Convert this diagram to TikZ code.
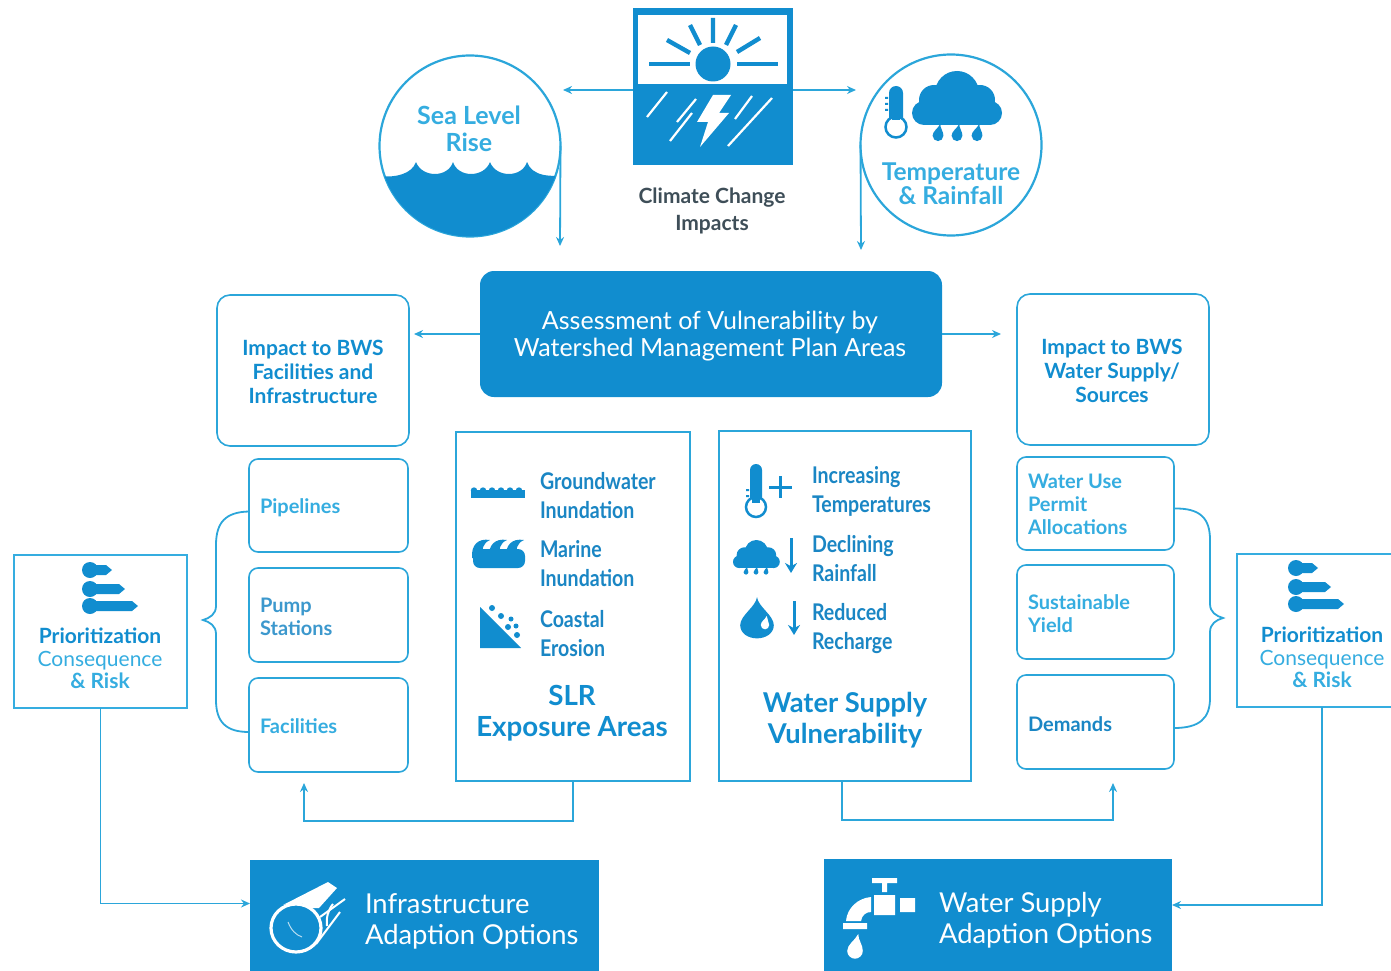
\documentclass[tikz,border=0pt]{standalone}
\usepackage{fontspec}
\setmainfont{Lato}
\newfontfamily\narrowf[FakeStretch=0.85]{Lato}
\usetikzlibrary{arrows.meta}
\definecolor{bwsblue}{HTML}{118DCF}
\definecolor{bwsline}{HTML}{2BA6DA}
\definecolor{bwsdark}{HTML}{1A86C4}
\definecolor{bwslight}{HTML}{35ADE0}
\definecolor{bwsgrey}{HTML}{3E4E58}
\tikzset{
  x=1pt,y=-1pt,
  every node/.style={outer sep=0pt,inner sep=0pt},
  roundbox/.style={draw=bwsline,line width=1.6pt,rounded corners=9pt,fill=white},
  squarebox/.style={draw=bwsline,line width=1.6pt,fill=white},
  solidbox/.style={fill=bwsblue},
  conn/.style={draw=bwsline,line width=1.8pt},
  arrowconn/.style={conn,-{Stealth[length=9pt,width=8pt]}},
  hd/.style={font=\bfseries\fontsize{21}{24}\selectfont,align=center,text=bwsblue},
  whitetxt/.style={font=\fontsize{25}{27}\selectfont,align=center,text=white},
  whiteleft/.style={font=\fontsize{27.4}{31}\selectfont,align=left,text=white,anchor=west},
  smalltxt/.style={font=\bfseries\fontsize{20}{23}\selectfont,align=left,anchor=west},
  listtxt/.style={font=\narrowf\bfseries\fontsize{23}{29}\selectfont,align=left,anchor=west,text=bwsdark},
  ray/.style={draw=bwsblue,line width=4.4pt},
  rain/.style={draw=white,line width=2.2pt},
  iconline/.style={draw=bwsblue,line width=3pt},
}
\newcommand{\cloudicon}[3]{\begin{scope}[shift={(#1,#2)},scale=#3]
  \fill[bwsblue] (45,22) circle (22) (22,29) circle (15) (68,29) circle (15) (12,42) circle (12) (78,42) circle (12);
  \fill[bwsblue] (12,30) rectangle (78,54);
\end{scope}}
\newcommand{\dropicon}[4]{\begin{scope}[shift={(#1,#2)},xscale=#3,yscale=#3]
  \fill[#4] (0.25,-1) .. controls (0.25,-.5) and (.6,-.2) .. (.6,.3) .. controls (.6,.65) and (.3,.9) .. (0,.9) .. controls (-.3,.9) and (-.6,.65) .. (-.6,.3) .. controls (-.6,-.2) and (0,-.5) .. (0.25,-1) -- cycle;
\end{scope}}
\newcommand{\ranked}[2]{\begin{scope}[shift={(#1,#2)}]
  \foreach \yy/\ww in {7/30,26/43,43/56}{
    \fill[bwsblue] (8,\yy) circle (8);
    \fill[bwsblue] (8,\yy-5) -- (\ww-6,\yy-5) -- (\ww,\yy) -- (\ww-6,\yy+5) -- (8,\yy+5) -- cycle;
  }
\end{scope}}
\begin{document}
\begin{tikzpicture}
\useasboundingbox (0,0) rectangle (1391,971);
% climate square
\node[solidbox,minimum width=160pt,minimum height=157pt] (sq) at (713,86.5) {};
\fill[white] (638,15) rectangle (787,84);
\fill[bwsblue] (713,64) circle (17.5);
\draw[ray] (649,64) -- (690,64) (737,64) -- (778,64);
\draw[ray] (667,40) -- (690,53) (690,25) -- (700,45) (713,18) -- (713,43) (736,25) -- (726,45) (760,38) -- (737,52);
\draw[rain] (647,117) -- (667,92) (670,141) -- (692,113) (677,122) -- (696,99) (728,146) -- (772,98) (735,119) -- (752,96);
\fill[white] (713,95) -- (731,95) -- (719,113) -- (729,113) -- (700,147) -- (708,122) -- (697,122) -- cycle;
\node[font=\bfseries\fontsize{21}{27}\selectfont,align=center,text=bwsgrey] (cc) at (712,211) {Climate Change\\Impacts};
% sea level circle
\node[circle,draw=bwsline,line width=2.2pt,minimum size=181pt,fill=white] (slr) at (470,146) {};
\begin{scope}
\clip (470,146) circle (90.5);
\fill[bwsblue] (370,176) -- (380,176) .. controls (395,178) and (412,174) .. (416,162) .. controls (422,178) and (448,178) .. (453,162) .. controls (458,178) and (484,178) .. (490,162) .. controls (496,178) and (522,178) .. (527,162) .. controls (532,176) and (550,178) .. (570,174) -- (570,250) -- (370,250) -- cycle;
\end{scope}
\node[font=\bfseries\fontsize{25}{27}\selectfont,align=center,text=bwslight] (slrt) at (469,129) {Sea Level\\Rise};
% temp circle
\node[circle,draw=bwsline,line width=2.2pt,minimum size=181pt,fill=white] (tr) at (951,145) {};
\cloudicon{912}{71}{1}
\dropicon{938}{133}{9}{bwsblue}
\dropicon{957}{133}{9}{bwsblue}
\dropicon{977}{133}{9}{bwsblue}
\fill[bwsblue] (889,93) arc (180:360:7) -- (903,118) -- (889,118) -- cycle;
\draw[bwsblue,line width=2.5pt,fill=white] (896,127) circle (10.5);
\fill[bwsblue] (892,112) rectangle (900,120);
\fill[bwsblue] (885,97) rectangle (888,99) (885,103) rectangle (888,105) (885,109) rectangle (888,111);
\node[font=\bfseries\fontsize{24.5}{24}\selectfont,align=center,text=bwslight] (trt) at (951,184) {Temperature\\\& Rainfall};
% assessment
\node[solidbox,rounded corners=14pt,minimum width=462pt,minimum height=126pt] (assess) at (711,334) {};
\node[whitetxt] (assesst) at (710,336) {Assessment of Vulnerability by\\Watershed Management Plan Areas};
% impact boxes
\node[roundbox,rounded corners=13pt,minimum width=192pt,minimum height=151pt] (impL) at (313,370.5) {};
\node[hd] (impLt) at (313,371.5) {Impact to BWS\\Facilities and\\Infrastructure};
\node[roundbox,rounded corners=13pt,minimum width=192pt,minimum height=151pt] (impR) at (1113,369.5) {};
\node[hd] (impRt) at (1112,370.5) {Impact to BWS\\Water Supply/\\Sources};
% small boxes left
\node[roundbox,minimum width=159pt,minimum height=93pt] (pipe) at (328.5,505.5) {};
\node[roundbox,minimum width=159pt,minimum height=94pt] (pump) at (328.5,615) {};
\node[roundbox,minimum width=159pt,minimum height=94pt] (fac) at (328.5,725) {};
\node[smalltxt,text=bwslight] (pipet) at (260,508) {Pipelines};
\node[smalltxt,text=bwsdark!85] (pumpt) at (260,616.5) {Pump\\Stations};
\node[smalltxt,text=bwslight] (fact) at (260,726) {Facilities};
% small boxes right
\node[roundbox,minimum width=157pt,minimum height=93pt] (use) at (1095.5,503.5) {};
\node[roundbox,minimum width=157pt,minimum height=94pt] (yield) at (1095.5,612) {};
\node[roundbox,minimum width=157pt,minimum height=94pt] (dem) at (1095.5,722) {};
\node[smalltxt,text=bwslight] (uset) at (1028,504) {Water Use\\Permit\\Allocations};
\node[smalltxt,text=bwslight] (yieldt) at (1028,614) {Sustainable\\Yield};
\node[smalltxt,text=bwsdark] (demt) at (1028,724) {Demands};
% SLR box
\node[squarebox,minimum width=234pt,minimum height=349pt] (slrbox) at (573,606.5) {};
\foreach \xx in {474,483,492,501,510,519}{\fill[bwsblue] (\xx,490.5) circle (3.2);}
\fill[bwsblue] (471,490) rectangle (525,498);
\node[listtxt] (gw) at (540,495.5) {Groundwater\\Inundation};
\fill[bwsblue,rounded corners=7pt] (473,549) rectangle (525,568);
\foreach \cc in {480,497,514}{
  \fill[bwsblue] (\cc-8,558) .. controls (\cc-9,545) and (\cc-2,538) .. (\cc+10,540) .. controls (\cc+3,543) and (\cc+1,549) .. (\cc+4,558) -- cycle;
}
\node[listtxt] (mi) at (540,564) {Marine\\Inundation};
\fill[bwsblue] (480,607) -- (480,648) -- (521,648) -- cycle;
\fill[bwsblue] (492,608) circle (3) (501,616) circle (3) (511,619) circle (2.5) (516,626) circle (2.5) (508,627) circle (3) (517,635) circle (3);
\node[listtxt] (ce) at (540,634) {Coastal\\Erosion};
\node[font=\bfseries\fontsize{27.7}{31}\selectfont,align=center,text=bwsblue] (slrl) at (572,713) {SLR\\Exposure Areas};
% water box
\node[squarebox,minimum width=252pt,minimum height=350pt] (wv) at (845,606) {};
\fill[bwsblue] (750,470) arc (180:360:6) -- (762,500) -- (750,500) -- cycle;
\draw[bwsblue,line width=2.5pt,fill=white] (756,507) circle (10);
\fill[bwsblue] (752,496) rectangle (760,503);
\fill[bwsblue] (746,489) rectangle (749,491) (746,495) rectangle (749,497);
\draw[iconline] (769,487) -- (792,487) (780.5,476) -- (780.5,498);
\node[listtxt] (it) at (812,491) {Increasing\\Temperatures};
\cloudicon{733}{540}{0.52}
\dropicon{746}{571}{4}{bwsblue}
\dropicon{756}{571}{4}{bwsblue}
\dropicon{766}{571}{4}{bwsblue}
\draw[iconline,-{Stealth[length=10pt,width=12pt]}] (791,538) -- (791,573);
\node[listtxt] (dr) at (812,559) {Declining\\Rainfall};
\begin{scope}[shift={(757,621)},scale=28]
\fill[bwsblue] (0,-.85) .. controls (.05,-.5) and (.6,-.2) .. (.6,.15) .. controls (.6,.45) and (.3,.62) .. (0,.62) .. controls (-.3,.62) and (-.6,.45) .. (-.6,.15) .. controls (-.6,-.2) and (-.05,-.5) .. (0,-.85) -- cycle;
\end{scope}
\dropicon{765}{623}{7}{white}
\draw[iconline,-{Stealth[length=10pt,width=12pt]}] (794,601) -- (794,635);
\node[listtxt] (rr) at (812,628.5) {Reduced\\Recharge};
\node[font=\bfseries\fontsize{27.3}{31}\selectfont,align=center,text=bwsblue] (wvl) at (845,720) {Water Supply\\Vulnerability};
% prioritization
\node[squarebox,draw=bwslight,minimum width=173pt,minimum height=153pt] (prioL) at (100.5,631.5) {};
\ranked{82}{563}
\node[font=\fontsize{21}{22.5}\selectfont,align=center,text=bwslight] (prioLt) at (100,658.5) {\textcolor{bwsblue}{\bfseries Prioritization}\\Consequence\\\bfseries\& Risk};
\node[squarebox,draw=bwslight,minimum width=160pt,minimum height=153pt] (prioR) at (1317,630.5) {};
\ranked{1288}{561}
\node[font=\fontsize{21}{22.5}\selectfont,align=center,text=bwslight] (prioRt) at (1322,657.5) {\textcolor{bwsblue}{\bfseries Prioritization}\\Consequence\\\bfseries\& Risk};
% bottom
\node[solidbox,minimum width=349pt,minimum height=111pt] (infra) at (424.5,915.5) {};
\draw[white,line width=3.2pt] (296,928) ellipse (25 and 24);
\fill[white] (283,905) -- (328,882) -- (337,888) -- (319,908) -- (311,908) .. controls (305,902) and (295,902) .. cycle;
\draw[white,line width=2pt] (320,917) -- (345,899) (316,944) -- (340,912);
\draw[white,line width=2pt] (333,904) .. controls (328,910) and (326,918) .. (327,926);
\draw[white!70!bwsblue,line width=1pt] (288,922) .. controls (291,930) and (296,935) .. (302,937);
\node[whiteleft] (infrat) at (365,921) {Infrastructure\\Adaption Options};
\node[solidbox,minimum width=348pt,minimum height=112pt] (ws) at (998,915) {};
\fill[white] (872,878) rectangle (897,883) (882,883) rectangle (887,892) (874,895) rectangle (895,915) (900,898) rectangle (915,912) (843,923) rectangle (867,929);
\fill[white] (871,897) .. controls (858,898) and (847,908) .. (846,921) -- (861,921) .. controls (862,915) and (866,912) .. (871,912) -- cycle;
\dropicon{855}{947}{13}{white}
\node[whiteleft] (wst) at (939,920.5) {Water Supply\\Adaption Options};
% connectors
\coordinate (slrEnd) at (560,246);
\coordinate (trEnd) at (861,250);
\coordinate (sqL) at (563,90);
\coordinate (sqR) at (856,90);
\coordinate (fbL) at (304,783);
\coordinate (fbR) at (1113,783);
\draw[arrowconn] ([yshift=-3.5pt]sq.west) -- (sqL);
\draw[arrowconn] ([yshift=-3.5pt]sq.east) -- (sqR);
\draw[arrowconn] (slr.east) -- (slrEnd);
\draw[arrowconn] (tr.west) -- (trEnd);
\draw[arrowconn] (assess.west) -- ([xshift=5pt]assess.west -| impL.east);
\draw[arrowconn] (assess.east) -- ([xshift=-16pt]assess.east -| impR.west);
\draw[conn] ([yshift=-6pt]pipe.west) .. controls (226,512) and (216,522) .. (216,545) -- (216,606) .. controls (216,614) and (210,618) .. (203,620) .. controls (210,622) and (216,626) .. (216,634) -- (216,700) .. controls (216,722) and (226,732) .. ([yshift=-7pt]fac.west);
\draw[conn] ([yshift=-5pt]use.east) .. controls (1200,508) and (1210,518) .. (1210,540) -- (1210,604) .. controls (1210,612) and (1216,616) .. (1223,618) .. controls (1216,620) and (1210,624) .. (1210,632) -- (1210,698) .. controls (1210,718) and (1200,728) .. ([yshift=-6pt]dem.east);
\draw[arrowconn] (slrbox.south) -- ++(0,40) -| (fbL);
\draw[arrowconn] ([xshift=-3pt]wv.south) -- ++(0,39) -| (fbR);
\draw[arrowconn] (prioL.south) |- ([yshift=12pt]infra.west);
\draw[arrowconn] ([xshift=5pt]prioR.south) |- ([yshift=10pt]ws.east);
\end{tikzpicture}
\end{document}
